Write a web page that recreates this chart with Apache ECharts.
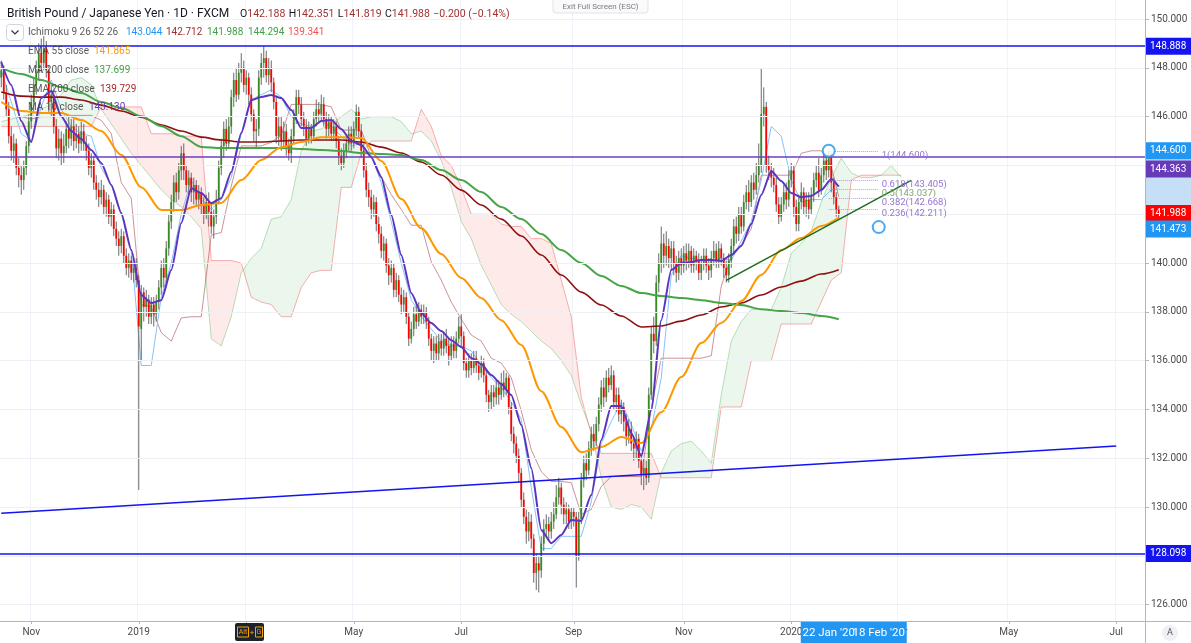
<!DOCTYPE html>
<html><head><meta charset="utf-8">
<script src="https://cdn.jsdelivr.net/npm/echarts@6/dist/echarts.min.js"></script>
<style>html,body{margin:0;padding:0;background:#fff;}#c{width:1191px;height:643px;}</style>
</head><body><div id="c"></div>
<script>
// ---------- DATA ----------
const startDate = [2018, 9, 16];   // first bar: 16 Oct 2018 (daily, weekdays)
const barCount = 458;              // bars on the time axis incl. future space
// daily candles: [open, close, low, high]
const ohlc = [
[147.6,147.9,147.2,148.3],[147.9,147.0,146.7,148.1],[147.0,146.3,146.0,147.3],[146.3,145.2,144.9,146.6],[145.2,144.6,144.2,145.6],
[144.6,144.9,144.1,145.3],[144.9,143.9,143.6,145.1],[143.9,143.6,143.1,144.3],[143.6,143.4,142.8,144.0],[143.4,143.9,143.0,144.2],
[143.9,144.8,143.6,145.0],[144.8,145.8,144.5,146.1],[145.8,146.6,145.5,146.9],[146.6,147.3,146.2,147.6],[147.3,147.8,146.9,148.3],
[147.8,148.6,147.5,149.0],[148.6,148.2,147.8,149.2],[148.2,148.8,147.9,149.3],[148.8,147.9,147.6,149.1],[147.9,146.6,146.2,148.1],
[146.6,146.9,146.0,147.3],[146.9,145.6,145.3,147.1],[145.6,144.7,144.3,145.9],[144.7,145.1,144.2,145.5],[145.1,144.5,144.0,145.4],
[144.5,144.8,144.1,145.3],[144.8,145.5,144.5,145.8],[145.5,145.1,144.7,146.0],[145.1,145.6,144.8,145.9],[145.6,145.0,144.6,145.9],
[145.0,145.3,144.7,145.7],[145.3,144.9,144.5,145.6],[144.9,145.4,144.6,145.8],[145.4,144.9,144.6,145.7],[144.9,144.6,144.2,145.2],
[144.6,143.9,143.6,144.9],[143.9,144.2,143.5,144.5],[144.2,143.3,143.0,144.4],[143.3,143.0,142.6,143.6],[143.0,142.7,142.3,143.3],
[142.7,143.0,142.4,143.4],[143.0,142.3,142.0,143.2],[142.3,142.6,141.9,142.9],[142.6,141.9,141.6,142.8],[141.9,142.2,141.5,142.5],
[142.2,141.4,141.1,142.4],[141.4,141.0,140.7,141.7],[141.0,140.7,140.3,141.3],[140.7,141.1,140.4,141.4],[141.1,140.3,140.0,141.3],
[140.3,139.8,139.5,140.6],[139.8,140.1,139.4,140.4],[140.1,139.6,139.3,140.3],[139.6,139.8,139.2,140.0],[139.8,139.3,139.0,140.2],
[139.3,137.4,130.7,139.5],[137.3,138.8,136.0,139.1],[138.8,138.2,137.6,139.0],[138.2,138.5,137.8,138.9],[138.5,137.8,137.5,138.7],
[137.8,138.3,137.5,138.6],[138.3,137.9,137.4,138.6],[137.9,138.4,137.6,138.7],[138.4,139.0,138.1,139.3],[139.0,139.8,138.7,140.1],
[139.8,139.4,139.0,140.2],[139.4,140.6,139.2,140.9],[140.6,141.7,140.3,142.0],[141.7,142.5,141.4,142.8],[142.5,143.3,142.1,143.6],
[143.3,142.9,142.5,143.7],[142.9,143.8,142.6,144.1],[143.8,144.5,143.4,144.8],[144.5,143.8,143.4,144.9],[143.8,143.2,142.9,144.0],
[143.2,143.5,142.8,143.8],[143.5,142.9,142.5,143.7],[142.9,143.2,142.4,143.5],[143.2,142.6,142.3,143.4],[142.6,142.9,142.2,143.2],
[142.9,142.4,142.0,143.1],[142.4,142.0,141.6,142.7],[142.0,142.5,141.8,142.8],[142.5,142.1,141.5,142.9],[142.1,141.5,141.2,142.4],
[141.5,141.9,141.0,142.2],[141.9,142.6,141.6,143.0],[142.6,143.9,142.4,144.2],[143.9,144.8,143.6,145.1],[144.8,145.5,144.3,145.8],
[145.5,144.9,144.6,145.9],[144.9,145.6,144.7,146.0],[145.6,146.8,145.3,147.1],[146.8,147.5,146.4,147.8],[147.5,146.9,146.6,148.0],
[146.9,147.8,146.7,148.2],[147.8,148.0,147.4,148.6],[148.0,147.3,147.0,148.3],[147.3,147.6,146.9,147.9],[147.6,146.9,146.5,147.8],
[146.9,146.1,145.8,147.2],[146.1,145.4,145.0,146.3],[145.4,145.5,144.7,145.9],[145.5,147.6,145.2,147.9],[147.6,148.2,147.3,148.6],
[148.2,148.4,147.6,148.89],[148.4,147.7,147.4,148.7],[147.7,148.0,147.3,148.4],[148.0,147.4,147.0,148.3],[147.4,146.6,146.3,147.6],
[146.6,145.2,144.9,146.8],[145.2,145.6,144.8,146.0],[145.6,145.0,144.6,146.0],[145.0,145.4,144.7,145.8],[145.4,144.8,144.4,145.7],
[144.8,144.5,144.2,145.1],[144.5,145.2,144.1,145.5],[145.2,146.0,144.9,146.3],[146.0,146.8,145.7,147.1],[146.8,146.5,146.1,147.1],
[146.5,145.9,145.6,146.8],[145.9,145.6,145.2,146.2],[145.6,145.1,144.8,145.9],[145.1,145.5,144.9,145.8],[145.5,145.2,144.9,145.7],
[145.2,145.9,145.0,146.2],[145.9,146.3,145.6,146.7],[146.3,146.1,145.7,146.6],[146.1,146.5,145.8,146.9],[146.5,145.9,145.6,146.8],
[145.9,145.5,145.1,146.2],[145.5,145.8,145.2,146.1],[145.8,145.3,145.0,146.0],[145.3,145.6,145.0,145.9],[145.6,145.0,144.7,145.8],
[145.0,144.4,144.0,145.2],[144.4,144.1,143.8,144.7],[144.1,144.6,143.9,144.9],[144.6,144.9,144.3,145.2],[144.9,145.3,144.6,145.6],
[145.3,144.9,144.6,145.6],[144.9,145.5,144.7,145.8],[145.5,146.2,145.2,146.5],[146.2,145.4,145.1,146.4],[145.4,144.6,144.3,145.7],
[144.6,143.8,143.5,144.9],[143.8,143.0,142.7,144.1],[143.0,142.7,142.3,143.3],[142.7,142.2,141.8,143.0],[142.2,142.5,141.9,142.8],
[142.5,141.6,141.3,142.7],[141.6,141.2,140.8,141.9],[141.2,140.5,140.2,141.5],[140.5,140.8,140.1,141.1],[140.8,139.9,139.6,141.0],
[139.9,139.5,139.1,140.2],[139.5,139.8,139.2,140.1],[139.8,138.9,138.6,140.0],[138.9,139.3,138.6,139.6],[139.3,138.7,138.4,139.5],
[138.7,138.3,137.9,139.0],[138.3,138.6,138.0,138.9],[138.6,137.8,137.5,138.8],[137.8,136.9,136.6,138.0],[136.9,137.3,136.7,137.6],
[137.3,137.9,137.0,138.2],[137.9,137.6,137.3,138.3],[137.6,138.1,137.4,138.4],[138.1,137.8,137.5,138.3],[137.8,138.0,137.5,138.3],
[138.0,137.6,137.3,138.2],[137.6,136.9,136.6,137.8],[136.9,136.4,136.0,137.1],[136.4,136.7,135.9,137.0],[136.7,136.3,136.0,137.0],
[136.3,136.8,136.0,137.1],[136.8,136.5,136.2,137.1],[136.5,136.9,136.2,137.2],[136.9,136.6,136.3,137.3],[136.6,136.2,135.8,136.9],
[136.2,136.7,136.0,137.0],[136.7,136.4,136.1,137.0],[136.4,136.9,136.1,137.2],[136.9,137.4,136.7,137.8],[137.4,137.0,136.6,137.9],
[137.0,135.9,135.6,137.2],[135.9,135.6,135.3,136.1],[135.6,136.0,135.3,136.3],[136.0,135.7,135.4,136.3],[135.7,136.1,135.5,136.4],
[136.1,135.8,135.5,136.4],[135.8,135.5,135.2,136.0],[135.5,135.9,135.3,136.2],[135.9,135.4,135.1,136.1],[135.4,134.6,134.3,135.6],
[134.6,134.3,133.9,134.8],[134.3,134.7,134.0,135.0],[134.7,134.5,134.1,135.0],[134.5,134.9,134.2,135.2],[134.9,134.6,134.2,135.2],
[134.6,135.1,134.4,135.5],[135.1,134.8,134.5,135.6],[134.8,135.3,134.6,135.5],[135.3,134.1,133.8,135.4],[134.1,133.0,132.7,134.3],
[133.0,132.6,132.2,133.3],[132.6,132.1,131.8,132.9],[132.1,131.4,131.0,132.4],[131.4,130.3,130.0,131.6],[130.3,129.6,129.3,130.6],
[129.6,129.0,128.5,129.9],[129.0,129.4,128.6,129.8],[129.4,128.7,128.3,129.7],[128.7,127.3,126.9,128.9],[127.3,127.7,126.6,128.1],
[127.7,127.4,126.5,128.0],[127.4,128.5,127.1,128.8],[128.5,129.1,128.2,129.5],[129.1,129.3,128.8,129.7],[129.3,129.0,128.6,129.6],
[129.0,129.4,128.7,129.8],[129.4,129.7,129.1,130.2],[129.7,130.4,129.5,130.9],[130.4,130.8,130.1,131.2],[130.8,130.1,129.7,131.0],
[130.1,129.7,129.3,130.4],[129.7,129.9,129.3,130.2],[129.9,129.4,129.1,130.1],[129.4,129.8,129.1,130.0],[129.8,129.6,129.2,130.0],
[129.6,128.0,126.7,129.8],[128.0,129.5,127.8,129.8],[129.5,131.1,129.3,131.4],[131.1,131.8,130.8,132.1],[131.8,131.5,131.1,132.2],
[131.5,132.4,131.3,132.7],[132.4,133.0,132.1,133.3],[133.0,132.7,132.3,133.4],[132.7,133.4,132.5,133.7],[133.4,134.2,133.1,134.5],
[134.2,134.9,133.9,135.2],[134.9,134.5,134.1,135.3],[134.5,135.3,134.3,135.6],[135.3,135.0,134.7,135.7],[135.0,135.4,134.8,135.8],
[135.4,134.3,134.0,135.6],[134.3,134.6,133.9,134.9],[134.6,133.8,133.5,134.9],[133.8,134.1,133.4,134.4],[134.1,133.5,133.1,134.3],
[133.5,132.9,132.5,133.8],[132.9,133.2,132.6,133.6],[133.2,132.6,132.3,133.5],[132.6,132.4,131.9,132.9],[132.4,132.8,132.0,133.1],
[132.8,131.9,131.6,133.0],[131.9,131.3,130.9,132.2],[131.3,131.6,130.7,132.0],[131.6,131.2,130.9,131.9],[131.2,134.6,131.0,134.9],
[134.6,137.1,134.4,137.4],[137.1,136.8,136.3,137.8],[136.8,139.2,136.6,139.5],[139.2,140.0,138.8,140.4],[140.0,140.8,139.6,141.5],
[140.8,140.3,139.8,141.2],[140.3,140.7,139.9,141.3],[140.7,140.2,139.8,141.0],[140.2,140.6,139.7,140.9],[140.6,140.0,139.5,140.9],
[140.0,139.6,139.2,140.3],[139.6,140.2,139.3,140.5],[140.2,139.9,139.5,140.6],[139.9,140.4,139.6,140.7],[140.4,140.1,139.7,140.8],
[140.1,140.5,139.8,140.8],[140.5,139.9,139.6,140.7],[139.9,140.3,139.6,140.6],[140.3,140.1,139.7,140.5],[140.1,139.6,139.3,140.4],
[139.6,140.0,139.3,140.3],[140.0,140.3,139.7,140.6],[140.3,139.9,139.6,140.6],[139.9,139.7,139.3,140.2],[139.7,140.2,139.4,140.5],
[140.2,140.5,139.9,140.9],[140.5,140.1,139.8,140.8],[140.1,140.6,139.8,140.9],[140.6,140.2,139.9,140.8],[140.2,139.8,139.4,140.4],
[139.8,139.5,139.2,140.1],[139.5,140.1,139.2,140.4],[140.1,140.7,139.8,141.0],[140.7,141.5,140.4,141.8],[141.5,141.2,140.8,141.9],
[141.2,142.0,140.9,142.3],[142.0,141.5,141.2,142.3],[141.5,142.5,141.3,142.8],[142.5,142.9,142.2,143.2],[142.9,142.5,142.1,143.4],
[142.5,143.3,142.3,143.6],[143.3,143.0,142.6,143.7],[143.0,143.6,142.8,144.1],[143.6,144.0,143.3,144.9],[144.0,146.1,143.7,147.96],
[146.1,146.4,145.6,147.2],[146.4,144.0,143.7,146.6],[144.0,143.8,143.4,144.4],[143.8,143.5,143.1,144.1],[143.5,143.2,142.9,143.9],
[143.2,142.4,142.1,143.5],[142.4,141.9,141.6,142.7],[141.9,142.4,141.7,142.7],[142.4,142.9,142.1,143.2],[142.9,142.6,142.2,143.3],
[142.6,143.4,142.3,143.8],[143.4,143.8,143.1,144.1],[143.8,142.3,141.9,144.0],[142.3,141.6,141.3,142.6],[141.6,142.5,141.3,142.8],
[142.5,142.9,142.2,143.3],[142.9,142.3,142.0,143.1],[142.3,142.6,141.9,142.9],[142.6,142.2,141.8,142.9],[142.2,142.8,142.0,143.1],
[142.8,143.4,142.5,143.7],[143.4,143.7,143.1,144.0],[143.7,143.0,142.7,144.3],[143.0,143.6,142.8,143.9],[143.6,144.2,143.3,144.5],
[144.2,143.8,143.4,144.4],[143.8,144.4,143.5,144.6],[144.4,143.3,142.9,144.5],[143.3,142.7,142.4,143.5],[142.7,142.2,141.9,142.9],
[142.188,141.988,141.819,142.351]
];
// indicator lines (fast lines: every 4th bar + last bar)
const ma10 = [148.24,147.30,145.82,144.96,146.76,147.05,146.02,145.41,145.08,144.63,144.10,143.20,142.05,140.53,138.69,138.36,138.48,139.71,141.64,143.07,
142.87,142.46,142.66,143.73,145.33,146.68,146.80,146.89,146.76,146.27,145.53,145.53,145.82,145.86,145.49,145.00,144.84,144.34,143.52,141.97,
140.33,138.77,137.95,137.54,137.21,136.84,136.56,136.11,135.86,135.41,135.04,134.59,133.36,131.60,129.06,128.52,128.85,129.47,129.43,130.49,
132.75,134.14,134.14,133.03,132.09,133.98,137.66,139.71,140.00,140.04,140.12,140.12,140.08,140.33,140.70,141.60,142.79,143.77,143.36,142.87,
142.70,142.75,142.99,143.44,143.13];
const tenkan = [147.9,146.6,145.3,145.0,146.4,147.5,146.3,145.6,145.3,145.2,143.9,143.2,142.0,140.5,135.8,135.8,138.6,140.0,142.0,143.4,
142.6,142.2,142.6,143.5,145.3,146.7,146.9,147.1,146.8,146.0,145.7,145.6,145.8,145.6,145.2,144.8,144.9,144.4,143.3,141.7,
140.0,138.5,137.8,137.3,136.8,136.6,136.6,136.4,135.8,135.3,134.9,134.3,133.6,130.8,128.3,128.3,128.8,128.8,128.8,130.2,
132.6,133.5,134.3,133.4,132.3,133.2,135.3,139.5,140.3,140.2,140.1,140.1,140.2,140.1,140.9,141.7,143.4,145.6,145.2,143.4,
142.5,142.6,142.6,143.0,143.044];
const kijun = [146.0,146.0,146.0,145.9,146.0,146.0,146.0,146.05,146.05,146.05,145.85,145.3,143.3,142.65,138.3,138.2,137.15,136.8,137.75,137.8,
137.8,141.15,141.25,143.15,144.8,144.8,144.8,144.95,145.25,146.5,146.5,146.5,146.5,146.4,145.45,145.45,145.45,144.35,143.55,142.8,
142.2,141.55,141.55,140.05,139.3,138.4,137.7,137.05,136.8,136.1,135.9,135.3,133.95,132.35,131.45,131.05,131.05,131.0,129.7,129.9,
130.85,131.25,131.25,131.25,131.25,134.05,136.1,136.1,136.1,136.1,136.1,136.2,139.05,140.25,140.75,141.4,143.6,143.6,143.6,143.6,
144.5,144.6,144.6,143.95,142.712];
// slow lines: every 8th bar + last bar
const ema55 = [146.60,146.23,146.15,146.15,145.86,145.41,144.43,143.11,142.17,142.17,142.38,142.46,143.40,144.22,144.75,144.96,145.16,145.16,145.12,144.18,
142.62,141.43,140.37,139.39,138.57,137.66,136.64,134.75,133.28,132.25,132.46,132.87,132.62,133.89,135.33,136.72,137.54,138.44,139.51,140.53,
141.03,141.52,141.865];
const ma200 = [148.0,147.75,147.50,147.21,146.97,146.60,146.35,146.02,145.61,145.20,144.76,144.71,144.71,144.71,144.71,144.67,144.63,144.59,144.51,144.47,
144.43,144.22,143.81,143.40,142.91,142.30,141.80,141.19,140.53,140.00,139.47,139.06,138.77,138.65,138.57,138.48,138.36,138.28,138.11,138.03,
137.95,137.83,137.699];
const ema200 = [147.01,146.84,146.80,146.80,146.68,146.47,146.23,145.98,145.66,145.41,145.16,145.04,144.96,144.96,145.00,145.04,145.04,145.04,144.96,144.75,
144.51,144.14,143.61,142.99,142.38,141.80,141.11,140.33,139.51,138.81,138.28,137.83,137.38,137.42,137.62,137.87,138.20,138.36,138.69,139.02,
139.26,139.55,139.729];
// Ichimoku cloud (leading spans), every 4th bar from bar 0 to bar 360
const spanA = [145.8,145.9,146.0,146.1,146.3,146.5,146.9,147.5,147.6,147.3,146.3,145.7,145.1,144.5,144.0,143.5,143.0,142.6,142.3,141.9,
141.4,136.9,136.6,137.8,139.6,140.2,140.6,141.8,141.9,142.6,144.6,145.4,145.5,145.7,146.0,146.3,145.9,146.0,146.0,146.0,
145.8,145.3,145.4,145.0,144.2,143.1,141.7,141.0,139.9,139.1,138.3,137.9,137.6,137.2,136.8,136.5,136.0,135.4,134.2,133.1,
131.2,130.0,129.9,130.1,130.0,129.5,131.4,132.3,132.6,132.7,132.3,131.8,134.6,136.8,137.6,138.1,138.1,138.1,139.0,140.4,
140.8,141.3,142.5,143.5,144.3,143.7,143.5,143.5,143.6,144.0,143.5];
const spanB = [145.6,145.6,145.6,145.6,145.6,145.6,145.6,145.6,145.6,145.6,146.4,146.4,146.4,146.4,146.4,145.3,145.3,145.3,145.2,145.2,
145.2,140.1,140.1,140.1,140.0,138.6,138.4,138.3,137.8,137.8,139.0,139.6,139.7,139.7,143.1,143.1,144.5,145.0,145.0,145.0,
145.0,145.0,146.3,145.6,144.4,144.0,143.1,142.0,142.0,142.0,141.6,141.5,141.5,141.0,141.0,140.8,139.3,137.8,134.5,133.0,
132.2,132.2,132.2,132.2,132.2,132.2,131.2,131.2,131.2,131.2,131.2,131.2,134.1,134.1,134.1,136.0,136.0,136.0,137.5,137.5,
137.5,137.5,138.4,139.3,139.6,143.4,143.6,143.6,143.6,143.6,143.6];
// drawings
const hLines = {res: 148.888, sup: 128.098, mid: 144.363};
const blueTrend = [[0, 129.75], [446, 132.50]];
const greenTrend = [[290, 139.29], [364, 143.39]];
const fibBars = [331, 351];
const fibLevels = [{r:'1', v:144.600}, {r:'0.618', v:143.405}, {r:'0.5', v:143.037}, {r:'0.382', v:142.668}, {r:'0.236', v:142.211}];
const fibLow = 141.473;
const lastPrice = 141.988;
const yTickVals = [126,128,130,132,134,136,138,140,142,144,146,148,150];
const yLabelVals = [126,130,132,134,136,138,140,146,148,150];
const monthNames = ['Jan','Feb','Mar','Apr','May','Jun','Jul','Aug','Sep','Oct','Nov','Dec'];

// ---------- BUILD ----------
const dates = [];
(function(){ let t = Date.UTC(startDate[0], startDate[1], startDate[2]);
  while (dates.length < barCount) { const d = new Date(t); const wd = d.getUTCDay();
    if (wd !== 0 && wd !== 6) dates.push(d.toISOString().slice(0,10)); t += 86400000; } })();
const lastBar = ohlc.length - 1;
const fastIdx = ma10.map((v,k) => k < ma10.length - 1 ? k*4 : lastBar);
const slowIdx = ema55.map((v,k) => k < ema55.length - 1 ? k*8 : lastBar);
const cloudIdx = spanA.map((v,k) => k*4);
function isMonthLabel(i) {
  if (i === 0) return false;
  const m = +dates[i].slice(5,7) - 1, pm = +dates[i-1].slice(5,7) - 1;
  return m !== pm && m % 2 === 0;
}
const FONT = 'Roboto';
const chart = echarts.init(document.getElementById('c'), null, {width:1191, height:643});

function renderCandle(params, api) {
  const i = api.value(0), o = api.value(1), c = api.value(2), l = api.value(3), h = api.value(4);
  const pO = api.coord([i, o]), pC = api.coord([i, c]), pH = api.coord([i, h]), pL = api.coord([i, l]);
  const bw = api.size([1, 0])[0];
  const w = Math.max(1.4, bw * 0.72);
  const col = c >= o ? '#3a8a24' : '#ff0000';
  const top = Math.min(pO[1], pC[1]), hg = Math.max(1, Math.abs(pO[1] - pC[1]));
  return {type:'group', children:[
    {type:'line', shape:{x1:pH[0], y1:pH[1], x2:pL[0], y2:pL[1]}, style:{stroke:'#6a6a6a', lineWidth:1}},
    {type:'rect', shape:{x:pO[0]-w/2, y:top, width:w, height:hg}, style:{fill:col}}
  ]};
}
function renderCloud(params, api) {
  const j = params.dataIndex;
  if (j >= spanA.length - 1) return;
  const x0 = cloudIdx[j], x1 = cloudIdx[j+1];
  const A0 = api.coord([x0, spanA[j]]), A1 = api.coord([x1, spanA[j+1]]);
  const B0 = api.coord([x0, spanB[j]]), B1 = api.coord([x1, spanB[j+1]]);
  const d0 = spanA[j] - spanB[j], d1 = spanA[j+1] - spanB[j+1];
  const G = 'rgba(76,175,80,0.11)', R = 'rgba(244,67,54,0.11)';
  const kids = [];
  if (d0 * d1 >= 0) {
    kids.push({pts:[A0, A1, B1, B0], col:(d0 + d1) >= 0 ? G : R});
  } else {
    const t = d0 / (d0 - d1);
    const M = [A0[0] + t*(A1[0]-A0[0]), A0[1] + t*(A1[1]-A0[1])];
    kids.push({pts:[A0, M, B0], col: d0 > 0 ? G : R});
    kids.push({pts:[M, A1, B1], col: d1 > 0 ? G : R});
  }
  return {type:'group', children: kids.map(k => ({type:'polygon', shape:{points:k.pts}, style:{fill:k.col}}))};
}
const lineS = (name, idx, vals, color, width, z, extra) => Object.assign({
  name, type:'line', data: idx.map((x,k) => [x, vals[k]]), symbol:'none', z, silent:true,
  lineStyle:{color, width}, itemStyle:{color}, clip:true
}, extra || {});

const option = {
  animation:false,
  backgroundColor:'#ffffff',
  grid:{left:0, right:46, top:0, bottom:22, containLabel:false},
  xAxis:{type:'category', data:dates, boundaryGap:true,
    axisLine:{show:true, lineStyle:{color:'#b2b5be'}},
    axisTick:{show:true, interval:isMonthLabel, alignWithLabel:true, length:3, lineStyle:{color:'#b2b5be'}},
    axisLabel:{interval:isMonthLabel, hideOverlap:false, color:'#4a4a4a', fontSize:10, fontFamily:FONT, margin:6,
      formatter:(v) => { const m = +v.slice(5,7) - 1; return m === 0 ? v.slice(0,4) : monthNames[m]; }},
    splitLine:{show:true, interval:isMonthLabel, lineStyle:{color:'#f0f3fa', width:1}}},
  yAxis:{type:'value', position:'right', min:125.33, max:150.78,
    axisLine:{show:true, lineStyle:{color:'#b2b5be'}},
    axisTick:{show:true, length:4, customValues:yTickVals, lineStyle:{color:'#b2b5be'}},
    axisLabel:{customValues:yLabelVals, formatter:(v) => v.toFixed(3), color:'#4a4a4a', fontSize:10, fontFamily:FONT, margin:6},
    splitLine:{show:false}},
  series:[
    {name:'grid', type:'line', data:[[0, null]], symbol:'none', z:0, silent:true, lineStyle:{opacity:0},
      markLine:{silent:true, symbol:['none','none'], label:{show:false}, animation:false,
        lineStyle:{color:'#eef0f4', width:1, type:'solid'}, data: yTickVals.map(v => ({yAxis:v}))}},
    {name:'cloud', type:'custom', renderItem:renderCloud, clip:true, z:1, silent:true,
      encode:{x:0, y:[1,2]}, data: cloudIdx.map((x,k) => [x, spanA[k], spanB[k]])},
    lineS('Lead A', cloudIdx, spanA, 'rgba(102,187,106,0.45)', 1, 1),
    lineS('Lead B', cloudIdx, spanB, 'rgba(239,83,80,0.45)', 1, 1),
    lineS('Kijun', fastIdx, kijun, 'rgba(150,40,45,0.5)', 1, 2),
    lineS('Tenkan', fastIdx, tenkan, '#86c3f7', 1, 2),
    {name:'GBPJPY', type:'custom', renderItem:renderCandle, clip:true, z:3, silent:true,
      encode:{x:0, y:[1,2,3,4]}, data: ohlc.map((d,i) => [i, d[0], d[1], d[2], d[3]])},
    lineS('EMA 200', slowIdx, ema200, '#8e1010', 1.6, 4, {smooth:0.3, smoothMonotone:'x'}),
    lineS('MA 200', slowIdx, ma200, '#46a546', 2, 4, {smooth:0.3, smoothMonotone:'x'}),
    lineS('EMA 55', slowIdx, ema55, '#ff9800', 2, 4, {smooth:0.3, smoothMonotone:'x'}),
    lineS('MA 10', fastIdx, ma10, '#5b35c0', 2, 4, {smooth:0.2, smoothMonotone:'x'}),
    {name:'blueTrend', type:'line', data:blueTrend, symbol:'none', z:5, silent:true, lineStyle:{color:'#1414f0', width:1.5}},
    {name:'greenTrend', type:'line', data:greenTrend, symbol:'none', z:5, silent:true, lineStyle:{color:'#1e6b1e', width:1.5}},
    {name:'hlines', type:'line', data:[[0, null]], symbol:'none', z:5, silent:true, lineStyle:{opacity:0},
      markLine:{silent:true, symbol:['none','none'], label:{show:false}, animation:false,
        data:[
          {yAxis:hLines.res, lineStyle:{color:'#1414f0', width:1.5, type:'solid'}},
          {yAxis:hLines.sup, lineStyle:{color:'#1414f0', width:1.5, type:'solid'}},
          {yAxis:hLines.mid, lineStyle:{color:'#6a3fc0', width:1.6, type:'solid'}}
        ]}},
    {name:'fib', type:'line', data:[[fibBars[0], null]], symbol:'none', z:6, silent:true, lineStyle:{opacity:0},
      markLine:{silent:true, symbol:['none','none'], label:{show:false}, animation:false,
        data: fibLevels.map(f => [
          {coord:[fibBars[0], f.v], lineStyle:{color: f.r === '0.5' ? 'rgba(120,180,110,0.8)' : 'rgba(149,117,205,0.7)', width:1, type:'dotted'}},
          {coord:[fibBars[1], f.v]}])}},
    {name:'anchors', type:'scatter', z:7, silent:true, symbol:'emptyCircle', symbolSize:12,
      itemStyle:{color:'#2196f3', borderColor:'#2196f3', borderWidth:1.6},
      data:[[fibBars[0], fibLevels[0].v], [fibBars[1], fibLow]]}
  ]
};
chart.setOption(option);

// ---------- overlay texts / tags ----------
const py = v => chart.convertToPixel({yAxisIndex:0}, v);
const px = i => chart.convertToPixel({xAxisIndex:0}, i);
const g = [];
function txt(x, y, text, color, size, extra) {
  g.push(Object.assign({type:'text', x, y, z:50, silent:true,
    style:{text, fill:color, fontSize:size, fontFamily:FONT, align:'left', verticalAlign:'middle'}}, extra || {}));
}
// price-axis range band and tags
g.push({type:'rect', z:40, silent:true, shape:{x:1146, y:py(144.6), width:45, height:py(fibLow)-py(144.6)}, style:{fill:'#c6dff7'}});
function tag(val, bg, dy) {
  const y = py(val) + (dy || 0);
  g.push({type:'rect', z:45, silent:true, shape:{x:1146, y:y-8.5, width:45, height:17}, style:{fill:bg}});
  g.push({type:'text', x:1150, y:y, z:46, silent:true, style:{text:val.toFixed(3), fill:'#fff', fontSize:10, fontFamily:FONT, align:'left', verticalAlign:'middle'}});
}
tag(hLines.res, '#1414f0');
tag(144.600, '#2196f3');
tag(hLines.mid, '#673ab7', 12.5);
tag(lastPrice, '#ff0000', -1);
tag(fibLow, '#2196f3', 2);
tag(hLines.sup, '#1414f0');
// fib labels
fibLevels.forEach(f => {
  txt(px(fibBars[1]) + 3, py(f.v) + 5, f.r + '(' + f.v.toFixed(3) + ')', f.r === '0.5' ? '#7fa96b' : '#9575cd', 9.5);
});
// time-axis highlight boxes
function tbox(i, text) {
  const x = px(i);
  g.push({type:'rect', z:45, silent:true, shape:{x:x-28, y:622, width:56, height:21}, style:{fill:'#2196f3'}});
  g.push({type:'text', x:x, y:633, z:46, silent:true, style:{text, fill:'#fff', fontSize:11.5, fontFamily:FONT, align:'center', verticalAlign:'middle'}});
}
tbox(fibBars[0], "22 Jan '20");
tbox(fibBars[1], "18 Feb '20");
// Alt+G hint
g.push({type:'rect', z:45, silent:true, shape:{x:235, y:623, width:29, height:18, r:2}, style:{fill:'#1e222d'}});
g.push({type:'rect', z:46, silent:true, shape:{x:237.5, y:627, width:11, height:10}, style:{fill:'none', stroke:'#f7a600', lineWidth:1}});
g.push({type:'rect', z:46, silent:true, shape:{x:255.5, y:627, width:7, height:10}, style:{fill:'none', stroke:'#f7a600', lineWidth:1}});
g.push({type:'text', x:243, y:632.5, z:47, silent:true, style:{text:'Alt', fill:'#f7a600', fontSize:7, fontFamily:FONT, align:'center', verticalAlign:'middle'}});
g.push({type:'text', x:252, y:632.5, z:47, silent:true, style:{text:'+', fill:'#f7a600', fontSize:8, fontFamily:FONT, align:'center', verticalAlign:'middle'}});
g.push({type:'text', x:259, y:632.5, z:47, silent:true, style:{text:'G', fill:'#f7a600', fontSize:7, fontFamily:FONT, align:'center', verticalAlign:'middle'}});
// axis corner pieces
g.push({type:'line', z:40, silent:true, shape:{x1:1145.5, y1:621, x2:1145.5, y2:643}, style:{stroke:'#b2b5be', lineWidth:1}});
g.push({type:'line', z:40, silent:true, shape:{x1:1145, y1:621.5, x2:1191, y2:621.5}, style:{stroke:'#b2b5be', lineWidth:1}});
g.push({type:'circle', z:40, silent:true, shape:{cx:1170, cy:633, r:8}, style:{fill:'#eef0f4'}});
g.push({type:'text', x:1170, y:633, z:41, silent:true, style:{text:'A', fill:'#555', fontSize:9, fontFamily:FONT, align:'center', verticalAlign:'middle'}});
// exit full screen button
g.push({type:'rect', z:40, silent:true, shape:{x:553, y:-3, width:95, height:16, r:3}, style:{fill:'#fafafa', stroke:'#e0e3eb', lineWidth:1}});
g.push({type:'text', x:600.5, y:6.5, z:41, silent:true, style:{text:'Exit Full Screen (ESC)', fill:'#787b86', fontSize:8, fontFamily:FONT, align:'center', verticalAlign:'middle'}});
// header
g.push({type:'text', x:7, y:14, z:50, silent:true, style:{
  text:'{t|British Pound / Japanese Yen · 1D · FXCM}',
  rich:{t:{fill:'#131722', fontSize:12, fontFamily:FONT}}, align:'left', verticalAlign:'middle'}});
g.push({type:'text', x:240, y:14, z:50, silent:true, style:{
  text:'{k|O}{v|142.188} {k|H}{v|142.351} {k|L}{v|141.819} {k|C}{v|141.988} {v|−0.200 (−0.14%)}',
  rich:{k:{fill:'#131722', fontSize:10.5, fontFamily:FONT}, v:{fill:'#a03232', fontSize:10.5, fontFamily:FONT}},
  align:'left', verticalAlign:'middle'}});
// legend chevron box
g.push({type:'rect', z:50, silent:true, shape:{x:6.5, y:24.5, width:17, height:16, r:3}, style:{fill:'#fff', stroke:'#d1d4dc', lineWidth:1}});
g.push({type:'polyline', z:51, silent:true, shape:{points:[[11.5,30.5],[15,34],[18.5,30.5]]}, style:{stroke:'#333', lineWidth:1.2, fill:'none'}});
const LG = 'rgba(60,60,60,0.85)';
txt(28, 32, 'Ichimoku 9 26 52 26', LG, 10);
txt(126, 32, '143.044', '#2196f3', 10);
txt(166, 32, '142.712', '#a52a2a', 10);
txt(207, 32, '141.988', '#43a047', 10);
txt(248, 32, '144.294', '#43a047', 10);
txt(288, 32, '139.341', '#ef5350', 10);
txt(28, 51, 'EMA 55 close', LG, 10); txt(94, 51, '141.865', '#ff9800', 10);
txt(28, 70, 'MA 200 close', LG, 10); txt(94, 70, '137.699', '#43a047', 10);
txt(28, 89, 'EMA 200 close', LG, 10); txt(100, 89, '139.729', '#a52a2a', 10);
txt(28, 107, 'MA 10 close', LG, 10); txt(89, 107, '143.130', '#673ab7', 10);
chart.setOption({graphic: g});
</script>
</body></html>
